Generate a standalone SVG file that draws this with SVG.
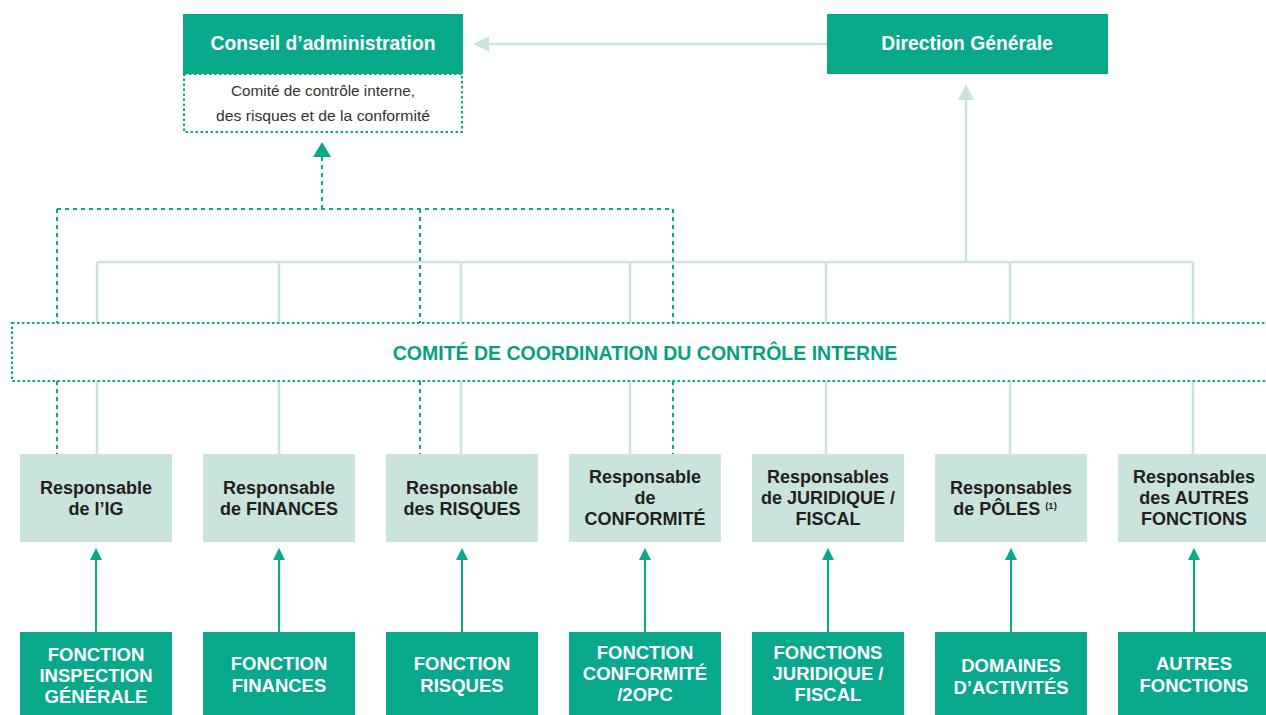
<svg xmlns="http://www.w3.org/2000/svg" width="1266" height="715" viewBox="0 0 1266 715">
<style>
.dg{fill:#08a98b}
.lt{fill:#c9e4dc}
.wt{font-family:"Liberation Sans",Arial,sans-serif;font-weight:bold;fill:#ffffff;text-anchor:middle}
.bt{font-family:"Liberation Sans",Arial,sans-serif;font-weight:bold;fill:#231f20;text-anchor:middle;font-size:18px}
.ft{font-size:18.5px}
.lline{stroke:#c9e4dc;stroke-width:2.5;fill:none}
.dline{stroke:#08a98b;stroke-width:2;fill:none;stroke-dasharray:4 4}
.dot{stroke:#08a98b;stroke-width:2;fill:none;stroke-dasharray:2.5 2.5}
.dline2{stroke:#08a98b;stroke-width:2;fill:none}
</style>
<rect width="1266" height="715" fill="#ffffff"/>

<g id="connectors">
  <line class="lline" x1="827" y1="44" x2="488" y2="44"/>
  <polygon points="473,44 489,36.5 489,51.5" fill="#c9e4dc"/>
  <line class="lline" x1="966" y1="99" x2="966" y2="262"/>
  <polygon points="966,84 958,100 974,100" fill="#c9e4dc"/>
  <line class="lline" x1="97" y1="262" x2="1193" y2="262"/>
  <path class="lline" d="M97,262V323 M279,262V323 M461,262V323 M630,262V323 M826,262V323 M1010,262V323 M1193,262V323"/>
  <path class="lline" d="M97,381V455 M279,381V455 M461,381V455 M630,381V455 M826,381V455 M1010,381V455 M1193,381V455"/>
  <path class="dline" d="M322,157V209 M57,209H673 M57,209V323 M420,209V323 M673,209V323"/>
  <path class="dline" d="M57,381V455 M420,381V455 M673,381V455"/>
  <polygon points="322,142 313,157 331,157" fill="#08a98b"/>
  <g fill="#08a98b">
    <path class="dline2" d="M96,558V632 M279,558V632 M462,558V632 M645,558V632 M828,558V632 M1011,558V632 M1194,558V632"/>
    <polygon points="96,548 90,560 102,560"/>
    <polygon points="279,548 273,560 285,560"/>
    <polygon points="462,548 456,560 468,560"/>
    <polygon points="645,548 639,560 651,560"/>
    <polygon points="828,548 822,560 834,560"/>
    <polygon points="1011,548 1005,560 1017,560"/>
    <polygon points="1194,548 1188,560 1200,560"/>
  </g>
</g>

<g id="conseil">
  <rect class="dg" x="183" y="14" width="280" height="60"/>
  <text class="wt" x="323" y="50" font-size="19.3">Conseil d’administration</text>
  <rect class="dot" x="184" y="74" width="278" height="58"/>
  <text x="323" y="96" font-family="'Liberation Sans',Arial,sans-serif" font-size="15" fill="#333" text-anchor="middle" textLength="184" lengthAdjust="spacingAndGlyphs">Comité de contrôle interne,</text>
  <text x="323" y="121" font-family="'Liberation Sans',Arial,sans-serif" font-size="15" fill="#333" text-anchor="middle" textLength="214" lengthAdjust="spacingAndGlyphs">des risques et de la conformité</text>
</g>

<g id="direction">
  <rect class="dg" x="827" y="14" width="281" height="60"/>
  <text class="wt" x="967" y="50" font-size="19.3">Direction Générale</text>
</g>

<g id="comite">
  <rect class="dot" x="12" y="323" width="1270" height="58"/>
  <text x="645" y="359.5" font-family="'Liberation Sans',Arial,sans-serif" font-weight="bold" font-size="19.5" fill="#079f80" text-anchor="middle">COMITÉ DE COORDINATION DU CONTRÔLE INTERNE</text>
</g>

<g id="resp-ig">
  <rect class="lt" x="20" y="454" width="152" height="88"/>
  <text class="bt" x="96" y="494">Responsable</text>
  <text class="bt" x="96" y="515">de l’IG</text>
</g>
<g id="resp-finances">
  <rect class="lt" x="203" y="454" width="152" height="88"/>
  <text class="bt" x="279" y="494">Responsable</text>
  <text class="bt" x="279" y="515">de FINANCES</text>
</g>
<g id="resp-risques">
  <rect class="lt" x="386" y="454" width="152" height="88"/>
  <text class="bt" x="462" y="494">Responsable</text>
  <text class="bt" x="462" y="515">des RISQUES</text>
</g>
<g id="resp-conformite">
  <rect class="lt" x="569" y="454" width="152" height="88"/>
  <text class="bt" x="645" y="483">Responsable</text>
  <text class="bt" x="645" y="504">de</text>
  <text class="bt" x="645" y="525">CONFORMITÉ</text>
</g>
<g id="resp-juridique">
  <rect class="lt" x="752" y="454" width="152" height="88"/>
  <text class="bt" x="828" y="483">Responsables</text>
  <text class="bt" x="828" y="504">de JURIDIQUE /</text>
  <text class="bt" x="828" y="525">FISCAL</text>
</g>
<g id="resp-poles">
  <rect class="lt" x="935" y="454" width="152" height="88"/>
  <text class="bt" x="1011" y="494">Responsables</text>
  <text class="bt" x="1005" y="515">de PÔLES <tspan font-size="9.5" dy="-6">(1)</tspan></text>
</g>
<g id="resp-autres">
  <rect class="lt" x="1118" y="454" width="152" height="88"/>
  <text class="bt" x="1194" y="483">Responsables</text>
  <text class="bt" x="1194" y="504">des AUTRES</text>
  <text class="bt" x="1194" y="525">FONCTIONS</text>
</g>

<g id="f-ig">
  <rect class="dg" x="20" y="632" width="152" height="83"/>
  <text class="wt ft" x="96" y="661">FONCTION</text>
  <text class="wt ft" x="96" y="682">INSPECTION</text>
  <text class="wt ft" x="96" y="703">GÉNÉRALE</text>
</g>
<g id="f-finances">
  <rect class="dg" x="203" y="632" width="152" height="83"/>
  <text class="wt ft" x="279" y="670">FONCTION</text>
  <text class="wt ft" x="279" y="692">FINANCES</text>
</g>
<g id="f-risques">
  <rect class="dg" x="386" y="632" width="152" height="83"/>
  <text class="wt ft" x="462" y="670">FONCTION</text>
  <text class="wt ft" x="462" y="692">RISQUES</text>
</g>
<g id="f-conformite">
  <rect class="dg" x="569" y="632" width="152" height="83"/>
  <text class="wt ft" x="645" y="659">FONCTION</text>
  <text class="wt ft" x="645" y="680">CONFORMITÉ</text>
  <text class="wt ft" x="645" y="701">/2OPC</text>
</g>
<g id="f-juridique">
  <rect class="dg" x="752" y="632" width="152" height="83"/>
  <text class="wt ft" x="828" y="659">FONCTIONS</text>
  <text class="wt ft" x="828" y="680">JURIDIQUE /</text>
  <text class="wt ft" x="828" y="701">FISCAL</text>
</g>
<g id="f-domaines">
  <rect class="dg" x="935" y="632" width="152" height="83"/>
  <text class="wt ft" x="1011" y="672">DOMAINES</text>
  <text class="wt ft" x="1011" y="694">D’ACTIVITÉS</text>
</g>
<g id="f-autres">
  <rect class="dg" x="1118" y="632" width="152" height="83"/>
  <text class="wt ft" x="1194" y="670">AUTRES</text>
  <text class="wt ft" x="1194" y="692">FONCTIONS</text>
</g>
</svg>
